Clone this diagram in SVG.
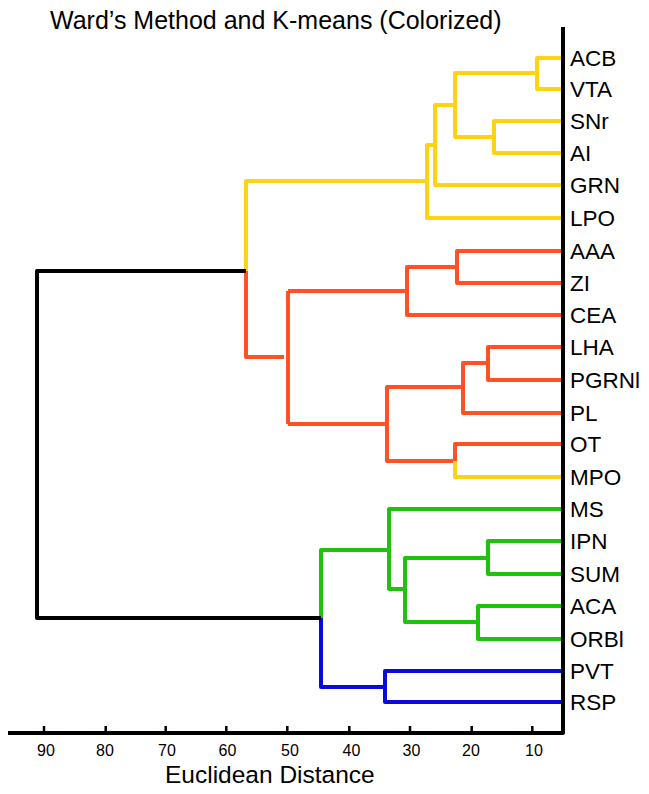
<svg xmlns="http://www.w3.org/2000/svg" width="649" height="794" viewBox="0 0 649 794">
<style>
.b{fill:none;stroke-width:4;stroke-linejoin:round;stroke-linecap:butt}
.y{stroke:#FFD214}
.o{stroke:#FF5222}
.g{stroke:#1EC30C}
.u{stroke:#0A0ADC}
.k{stroke:#000}
.lab{font-family:"Liberation Sans",Arial,sans-serif;font-size:22.5px;fill:#000}
.tk{font-family:"Liberation Sans",Arial,sans-serif;font-size:16px;fill:#000;text-anchor:middle}
.ttl{font-family:"Liberation Sans",Arial,sans-serif;fill:#000}
</style>
<rect width="649" height="794" fill="#fff"/>
<text class="ttl" x="50" y="29" font-size="25">Ward’s Method and K-means (Colorized)</text>
<g id="connectors">
<path class="b y" d="M561,58 H537 V89 H561"/>
<path class="b y" d="M561,121 H494 V153 H561"/>
<path class="b y" d="M537,73 H455 V137 H494"/>
<path class="b y" d="M455,105 H435 V185 H561"/>
<path class="b y" d="M435,145 H427 V218 H561"/>
<path class="b y" d="M427,181 H246 V271"/>
<path class="b o" d="M246,271 V357 H284"/>
<path class="b o" d="M288,291 V424"/>
<path class="b o" d="M288,291 H407"/>
<path class="b o" d="M457,267 H407 V315 H561"/>
<path class="b o" d="M561,251 H457 V283 H561"/>
<path class="b o" d="M288,424 H387"/>
<path class="b o" d="M463,387 H387 V461 H455"/>
<path class="b o" d="M561,347 H488 V380 H561"/>
<path class="b o" d="M488,363 H463 V413 H561"/>
<path class="b o" d="M561,444 H455 V461"/>
<path class="b y" d="M455,461 V477 H561"/>
<path class="b g" d="M561,541 H488 V574 H561"/>
<path class="b g" d="M561,606 H478 V639 H561"/>
<path class="b g" d="M488,558 H405 V622 H478"/>
<path class="b g" d="M561,509 H389 V589 H405"/>
<path class="b g" d="M389,550 H321 V618"/>
<path class="b u" d="M321,618 V687 H385"/>
<path class="b u" d="M561,671 H385 V702 H561"/>
<path class="b k" d="M246,271 H37 V618 H321"/>
</g>
<g id="axis">
<path class="b k" d="M8,733 H563 V27" stroke-linejoin="miter"/>
<g stroke="#000" stroke-width="2.5">
<line x1="44" y1="726" x2="44" y2="733"/>
<line x1="105.7" y1="726" x2="105.7" y2="733"/>
<line x1="165.7" y1="726" x2="165.7" y2="733"/>
<line x1="226.3" y1="726" x2="226.3" y2="733"/>
<line x1="287.3" y1="726" x2="287.3" y2="733"/>
<line x1="349.3" y1="726" x2="349.3" y2="733"/>
<line x1="410" y1="726" x2="410" y2="733"/>
<line x1="471.7" y1="726" x2="471.7" y2="733"/>
<line x1="532.3" y1="726" x2="532.3" y2="733"/>
</g>
<text class="tk" x="46" y="756">90</text>
<text class="tk" x="105" y="756">80</text>
<text class="tk" x="167" y="756">70</text>
<text class="tk" x="227.5" y="756">60</text>
<text class="tk" x="290" y="756">50</text>
<text class="tk" x="351.5" y="756">40</text>
<text class="tk" x="411.5" y="756">30</text>
<text class="tk" x="471" y="756">20</text>
<text class="tk" x="534" y="756">10</text>
<text class="ttl" x="165" y="783" font-size="24.5">Euclidean Distance</text>
</g>
<g id="n-ACB"><text class="lab" x="570" y="66">ACB</text></g>
<g id="n-VTA"><text class="lab" x="570" y="97">VTA</text></g>
<g id="n-SNr"><text class="lab" x="570" y="129">SNr</text></g>
<g id="n-AI"><text class="lab" x="570" y="161">AI</text></g>
<g id="n-GRN"><text class="lab" x="570" y="193">GRN</text></g>
<g id="n-LPO"><text class="lab" x="570" y="226">LPO</text></g>
<g id="n-AAA"><text class="lab" x="570" y="259">AAA</text></g>
<g id="n-ZI"><text class="lab" x="570" y="291">ZI</text></g>
<g id="n-CEA"><text class="lab" x="570" y="323">CEA</text></g>
<g id="n-LHA"><text class="lab" x="570" y="355">LHA</text></g>
<g id="n-PGRNl"><text class="lab" x="570" y="388">PGRNl</text></g>
<g id="n-PL"><text class="lab" x="570" y="421">PL</text></g>
<g id="n-OT"><text class="lab" x="570" y="452">OT</text></g>
<g id="n-MPO"><text class="lab" x="570" y="485">MPO</text></g>
<g id="n-MS"><text class="lab" x="570" y="517">MS</text></g>
<g id="n-IPN"><text class="lab" x="570" y="549">IPN</text></g>
<g id="n-SUM"><text class="lab" x="570" y="582">SUM</text></g>
<g id="n-ACA"><text class="lab" x="570" y="614">ACA</text></g>
<g id="n-ORBl"><text class="lab" x="570" y="647">ORBl</text></g>
<g id="n-PVT"><text class="lab" x="570" y="679">PVT</text></g>
<g id="n-RSP"><text class="lab" x="570" y="710">RSP</text></g>
</svg>
